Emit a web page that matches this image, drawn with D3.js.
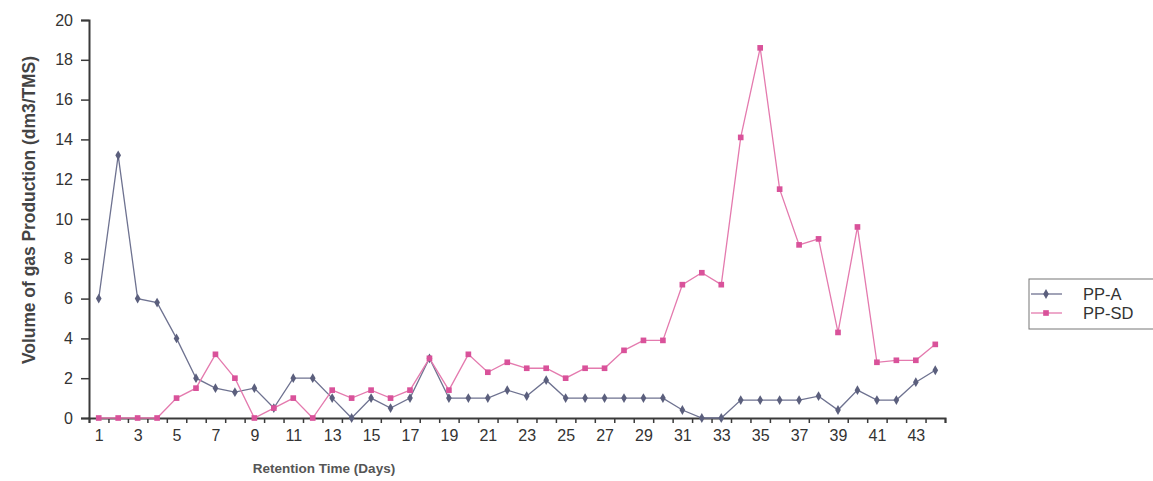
<!DOCTYPE html>
<html>
<head>
<meta charset="utf-8">
<script src="https://cdn.jsdelivr.net/npm/d3@7"></script>
<style>
  body { margin: 0; background: #fff; }
  svg { display: block; }
</style>
</head>
<body>
<div id="chart"></div>
<script>
const days = d3.range(1, 45)
const ppA = [6.0, 13.2, 6.0, 5.8, 4.0, 2.0, 1.5, 1.3, 1.5, 0.5, 2.0, 2.0, 1.0, 0.0, 1.0, 0.5, 1.0, 3.0, 1.0, 1.0, 1.0,
  1.4, 1.1, 1.9, 1.0, 1.0, 1.0, 1.0, 1.0, 1.0, 0.4, 0.0, 0.0, 0.9, 0.9, 0.9, 0.9, 1.1, 0.4, 1.4, 0.9, 0.9, 1.8, 2.4]
const ppSD = [0, 0, 0, 0, 1.0, 1.5, 3.2, 2.0, 0, 0.5, 1.0, 0, 1.4, 1.0, 1.4, 1.0, 1.4, 3.0, 1.4, 3.2, 2.3,
  2.8, 2.5, 2.5, 2.0, 2.5, 2.5, 3.4, 3.9, 3.9, 6.7, 7.3, 6.7, 14.1, 18.6, 11.5, 8.7, 9.0, 4.3, 9.6, 2.8, 2.9, 2.9, 3.7]
const yTicks = d3.range(0, 21, 2)
const xLabels = d3.range(1, 45, 2)
const seriesNames = ['PP-A', 'PP-SD']

const width = 1153, height = 481
const plot = {left: 89, right: 945, top: 20, bottom: 418}

const svg = d3.select('#chart').append('svg')
    .attr('width', width)
    .attr('height', height)

const x = d3.scaleLinear().domain([0.5, 44.5]).range([plot.left, plot.right])
const y = d3.scaleLinear().domain([0, 20]).range([plot.bottom, plot.top])

const axisColor = '#3a3a3a'
const labelFont = '"Liberation Sans", Arial, sans-serif'

// y axis
const yAxis = svg.append('g')
    .attr('transform', `translate(${plot.left},0)`)
    .call(d3.axisLeft(y).tickValues(yTicks).tickSize(8).tickPadding(8))
yAxis.select('.domain').attr('stroke', axisColor).attr('stroke-width', 2)
yAxis.selectAll('.tick line').attr('stroke', axisColor).attr('stroke-width', 1.5)
yAxis.selectAll('.tick text')
    .attr('fill', '#333')
    .style('font-family', labelFont)
    .style('font-size', '16px')

// x axis tick marks between days
const xTickAxis = svg.append('g')
    .attr('transform', `translate(0,${plot.bottom})`)
    .call(d3.axisBottom(x).tickValues(d3.range(0.5, 45, 1)).tickSize(5).tickFormat(''))
xTickAxis.select('.domain').attr('stroke', axisColor).attr('stroke-width', 2)
xTickAxis.selectAll('.tick line').attr('stroke', axisColor).attr('stroke-width', 1.5)

// x labels on odd days
const xLabelAxis = svg.append('g')
    .attr('transform', `translate(0,${plot.bottom})`)
    .call(d3.axisBottom(x).tickValues(xLabels).tickSize(0).tickPadding(12))
xLabelAxis.select('.domain').remove()
xLabelAxis.selectAll('.tick text')
    .attr('fill', '#333')
    .style('font-family', labelFont)
    .style('font-size', '16px')

// axis titles
svg.append('text')
    .text('Volume of gas Production (dm3/TMS)')
    .attr('transform', 'translate(35,210) rotate(-90)')
    .attr('text-anchor', 'middle')
    .attr('textLength', 308)
    .attr('lengthAdjust', 'spacingAndGlyphs')
    .attr('fill', '#444')
    .style('font-family', labelFont)
    .style('font-weight', 'bold')
    .style('font-size', '19px')

svg.append('text')
    .text('Retention Time (Days)')
    .attr('x', 324)
    .attr('y', 473)
    .attr('text-anchor', 'middle')
    .attr('fill', '#555')
    .style('font-family', labelFont)
    .style('font-weight', 'bold')
    .style('font-size', '13.5px')

// series
const series = [
    {name: seriesNames[0], values: ppA, line: '#6e7290', mark: '#5b5f7d', symbol: d3.symbolDiamond, size: 28},
    {name: seriesNames[1], values: ppSD, line: '#e47aae', mark: '#d9529a', symbol: d3.symbolSquare, size: 32}
]

const line = d3.line()
    .x((d, i) => x(days[i]))
    .y(d => y(d))

series.forEach(s => {
    svg.append('path')
        .datum(s.values)
        .attr('fill', 'none')
        .attr('stroke', s.line)
        .attr('stroke-width', 1.3)
        .attr('d', line)

    svg.append('g')
        .selectAll('path')
        .data(s.values)
        .enter()
        .append('path')
        .attr('d', d3.symbol().type(s.symbol).size(s.size))
        .attr('transform', (d, i) => `translate(${x(days[i])},${y(d)})`)
        .attr('fill', s.mark)
})

// legend
const legend = svg.append('g').attr('transform', 'translate(1029,279)')
legend.append('rect')
    .attr('width', 140)
    .attr('height', 50)
    .attr('fill', '#fff')
    .attr('stroke', '#777')
    .attr('stroke-width', 1)

series.forEach((s, i) => {
    const ly = 15 + i * 19
    legend.append('line')
        .attr('x1', 2).attr('x2', 33)
        .attr('y1', ly).attr('y2', ly)
        .attr('stroke', s.line)
        .attr('stroke-width', 1.3)
    legend.append('path')
        .attr('d', d3.symbol().type(s.symbol).size(s.size)())
        .attr('transform', `translate(17,${ly})`)
        .attr('fill', s.mark)
    legend.append('text')
        .text(s.name)
        .attr('x', 54)
        .attr('y', ly + 6)
        .attr('fill', '#333')
        .style('font-family', labelFont)
        .style('font-size', '16.5px')
})
</script>
</body>
</html>
